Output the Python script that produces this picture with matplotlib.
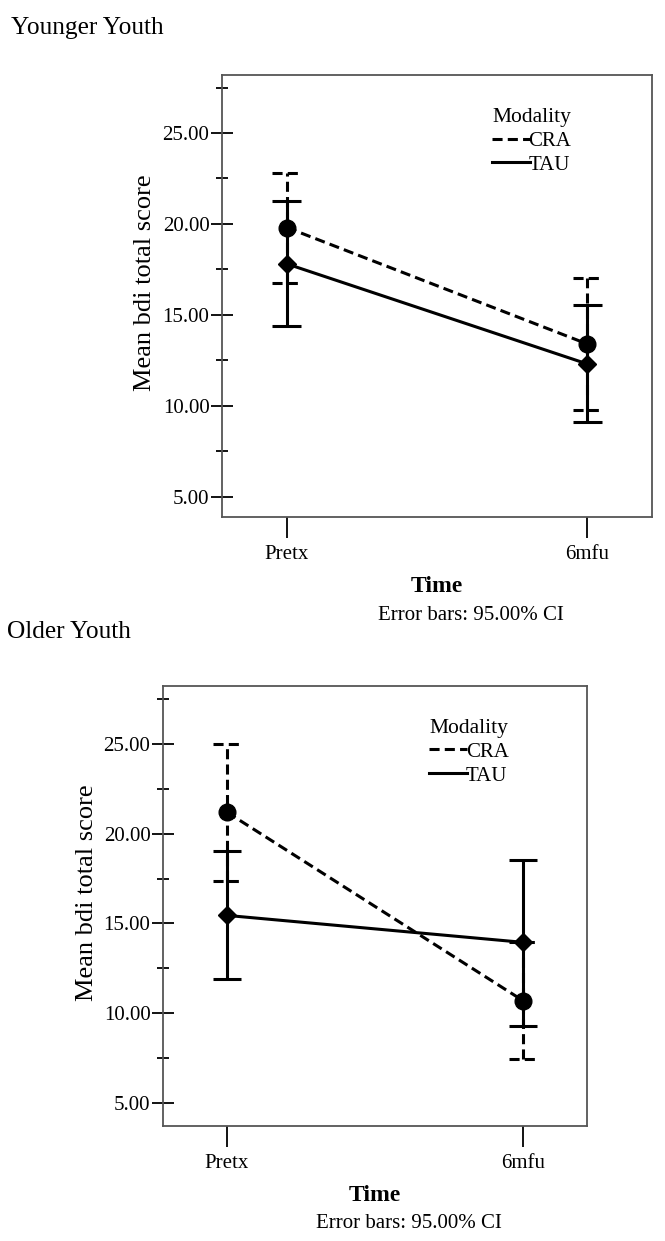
import matplotlib.pyplot as plt
from matplotlib.lines import Line2D
from matplotlib.ticker import MultipleLocator, FormatStrFormatter

plt.rcParams['font.family'] = ['Liberation Serif', 'DejaVu Serif']

# data
time_labels = ["Pretx", "6mfu"]
groups = ["CRA", "TAU"]

young_cra_mean = [19.8, 13.4]
young_cra_low = [16.75, 9.75]
young_cra_high = [22.8, 17.0]
young_tau_mean = [17.8, 12.3]
young_tau_low = [14.4, 9.1]
young_tau_high = [21.25, 15.55]

old_cra_mean = [21.2, 10.7]
old_cra_low = [17.35, 7.45]
old_cra_high = [25.0, 13.95]
old_tau_mean = [15.45, 13.95]
old_tau_low = [11.9, 9.3]
old_tau_high = [19.05, 18.55]

panels = [
    ("Younger Youth", young_cra_mean, young_cra_low, young_cra_high,
     young_tau_mean, young_tau_low, young_tau_high),
    ("Older Youth", old_cra_mean, old_cra_low, old_cra_high,
     old_tau_mean, old_tau_low, old_tau_high),
]

fig = plt.figure(figsize=(6.65, 12.41), dpi=100)
axes_pos = [[0.3338, 0.5834, 0.6466, 0.3562], [0.2451, 0.0927, 0.6376, 0.3545]]
ylims = [(3.88, 28.19), (3.72, 28.23)]
title_pos = [(0.0165, 1 - 34 / 1241), (0.0105, 1 - 638 / 1241)]

lw = 2.2
cap = 0.048
dash = (3.3, 1.7)

for i, (name, cm, cl, ch, tm, tl, th) in enumerate(panels):
    ax = fig.add_axes(axes_pos[i])
    x = list(range(len(time_labels)))

    # CRA (dashed)
    ax.vlines(x, cl, ch, colors="black", linewidth=lw, linestyles=[(0, dash)])
    ax.hlines(cl + ch, [v - cap for v in x + x], [v + cap for v in x + x],
              colors="black", linewidth=lw, linestyles=[(0, dash)])
    ax.plot(x, cm, color="black", linewidth=lw, dashes=dash, marker="o",
            markersize=12, zorder=3)

    # TAU (solid)
    ax.vlines(x, tl, th, colors="black", linewidth=lw)
    ax.hlines(tl + th, [v - cap for v in x + x], [v + cap for v in x + x],
              colors="black", linewidth=lw)
    ax.plot(x, tm, color="black", linewidth=lw, marker="D", markersize=9,
            zorder=4)

    ax.set_xlim(-0.216, 1.216)
    ax.set_ylim(*ylims[i])
    ax.set_xticks(x)
    ax.set_xticklabels(time_labels)
    ax.yaxis.set_major_locator(MultipleLocator(5))
    ax.yaxis.set_minor_locator(MultipleLocator(2.5))
    ax.yaxis.set_major_formatter(FormatStrFormatter("%.2f"))
    ax.tick_params(axis="y", which="major", direction="inout", length=16,
                   width=1.3, labelsize=15, pad=1)
    ax.tick_params(axis="y", which="minor", direction="inout", length=8,
                   width=1.3)
    ax.tick_params(axis="x", direction="out", length=15, width=1.3,
                   labelsize=15, pad=5)
    for s in ax.spines.values():
        s.set_color("#555555")
        s.set_linewidth(1.3)

    ax.set_ylabel("Mean bdi total score", fontsize=19)
    ax.yaxis.set_label_coords(-0.18, 0.53)
    ax.yaxis.label.set_va("center")
    ax.set_xlabel("Time", fontsize=17, fontweight="bold")
    ax.xaxis.set_label_coords(0.5, -0.17)
    ax.xaxis.label.set_va("baseline")
    ax.text(0.579, -0.233, "Error bars: 95.00% CI", transform=ax.transAxes,
            ha="center", va="baseline", fontsize=15)

    handles = [Line2D([], [], color="black", linewidth=lw, dashes=dash),
               Line2D([], [], color="black", linewidth=lw)]
    ax.legend(handles, groups, title="Modality", loc="upper left",
              bbox_to_anchor=(0.628, 0.925), frameon=False, fontsize=15,
              title_fontsize=15.5, handlelength=1.8, handletextpad=-0.05,
              labelspacing=0.2, borderpad=0, borderaxespad=0,
              alignment="left")

    fig.text(title_pos[i][0], title_pos[i][1], name, fontsize=18.3,
             va="baseline", ha="left")

plt.savefig("out.png", dpi=100)
